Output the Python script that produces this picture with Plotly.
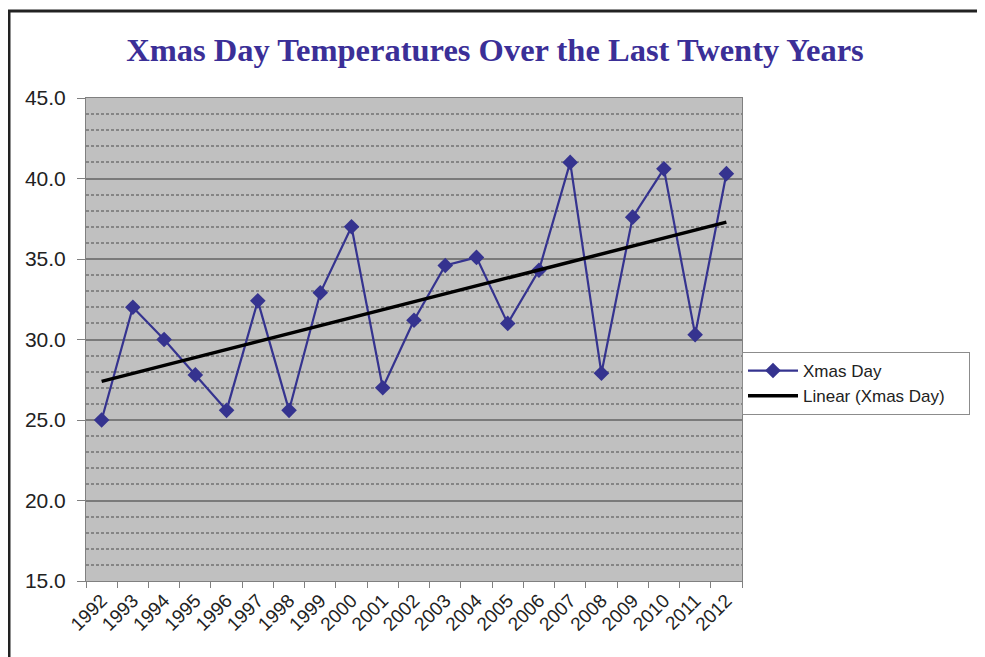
import numpy as np
import plotly.graph_objects as go

# Xmas Day temperatures
years = [str(y) for y in range(1992, 2013)]
temps = [25.0, 32.0, 30.0, 27.8, 25.6, 32.4, 25.6, 32.9, 37.0, 27.0, 31.2,
         34.6, 35.1, 31.0, 34.3, 41.0, 27.9, 37.6, 40.6, 30.3, 40.3]
y_ticks = [15, 20, 25, 30, 35, 40, 45]
y_tick_text = ['15.0', '20.0', '25.0', '30.0', '35.0', '40.0', '45.0']

# Linear trend (same as Excel "Linear" trendline)
idx = np.arange(len(temps))
slope, intercept = np.polyfit(idx, temps, 1)
trend = list(slope * idx + intercept)

SERIES_COLOR = '#35338f'
OFF = 8  # page body margin in the browser
W, H = 985, 657
L, T = 86 - OFF, 98 - OFF
R, B = W - (742 - OFF), H - (581 - OFF)
plot_w, plot_h = W - L - R, H - T - B


def px_to_paper_x(px):
    return (px - OFF - L) / plot_w


def px_to_paper_y(py):
    return (H - B - (py - OFF)) / plot_h


fig = go.Figure()
fig.add_trace(go.Scatter(
    x=years, y=temps, name='Xmas Day', mode='lines+markers',
    line=dict(color=SERIES_COLOR, width=2.2),
    marker=dict(symbol='diamond', size=12, color=SERIES_COLOR),
))
fig.add_trace(go.Scatter(
    x=years, y=trend, name='Linear (Xmas Day)\u00a0\u00a0\u00a0\u00a0', mode='lines',
    line=dict(color='black', width=3.5),
))

fig.update_layout(
    width=W, height=H,
    margin=dict(l=L, r=R, t=T, b=B),
    paper_bgcolor='white',
    plot_bgcolor='#c0c0c0',
    font=dict(family='Liberation Sans, Arial', color='#222222'),
    title=dict(
        text='<b>Xmas Day Temperatures Over the Last Twenty Years</b>',
        font=dict(family='Liberation Serif, Times New Roman', size=32.5, color='#3b2f97'),
        x=(495 - OFF) / W, xanchor='center', y=1 - (50 - OFF) / H, yanchor='middle',
    ),
    legend=dict(
        x=px_to_paper_x(742), xanchor='left',
        y=px_to_paper_y(352), yanchor='top',
        bgcolor='white', bordercolor='#8c8c8c', borderwidth=1,
        font=dict(size=17, color='#222222'),
        itemwidth=50,
        tracegroupgap=0,
    ),
    showlegend=True,
    shapes=[dict(
        type='rect', xref='paper', yref='paper',
        x0=px_to_paper_x(9), x1=px_to_paper_x(980),
        y0=px_to_paper_y(720), y1=px_to_paper_y(11),
        line=dict(color='#222222', width=3), layer='below',
    )],
)

fig.update_xaxes(
    type='category', range=[-0.5, len(years) - 0.5],
    tickangle=-45, tickson='boundaries',
    ticks='outside', ticklen=6, tickcolor='#808080',
    showline=True, linecolor='#808080', linewidth=1,
    showgrid=False, mirror=True,
    tickfont=dict(size=19, color='#222222'),
)
fig.update_yaxes(
    range=[15, 45], tickvals=y_ticks, ticktext=y_tick_text,
    ticks='outside', ticklen=8, tickcolor='#808080',
    ticklabelstandoff=7,
    showline=True, linecolor='#808080', linewidth=1, mirror=True,
    showgrid=True, gridcolor='#7a7a7a', gridwidth=1.5,
    minor=dict(dtick=1, tick0=15, showgrid=True, gridcolor='#858585',
               griddash='3px,2px', gridwidth=1.5),
    zeroline=False,
    tickfont=dict(size=21, color='#222222'),
)

fig.write_html("out.html")
